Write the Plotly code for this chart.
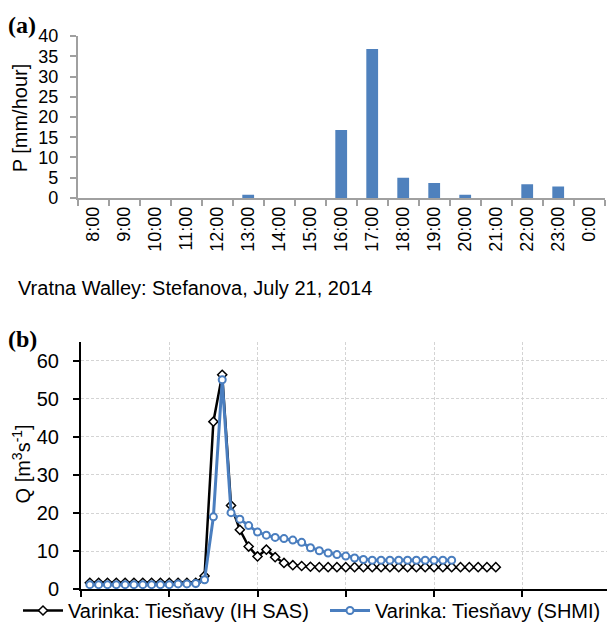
import plotly.graph_objects as go

# ---- data: panel (a) hourly precipitation ----
hours = ["8:00", "9:00", "10:00", "11:00", "12:00", "13:00", "14:00", "15:00",
         "16:00", "17:00", "18:00", "19:00", "20:00", "21:00", "22:00", "23:00", "0:00"]
precip = [0, 0, 0, 0, 0, 0.8, 0, 0, 16.8, 36.8, 5.0, 3.7, 0.8, 0, 3.35, 2.8, 0]

# ---- data: panel (b) discharge ----
ihsas_q = [1.7, 1.7, 1.7, 1.7, 1.7, 1.7, 1.7, 1.7, 1.7, 1.7, 1.7, 1.7, 1.7,
           3.5, 44.0, 56.3, 22.0, 15.6, 11.2, 8.6, 10.4, 8.4, 6.9, 6.3, 6.1, 5.9,
           5.8, 5.8, 5.8, 5.8, 5.8, 5.8, 5.8, 5.8, 5.8, 5.8, 5.8, 5.8, 5.8, 5.8,
           5.8, 5.8, 5.8, 5.8, 5.8, 5.8, 5.8]
shmi_q = [1.2, 1.2, 1.2, 1.2, 1.2, 1.2, 1.2, 1.2, 1.2, 1.2, 1.4, 1.4, 1.5,
          2.5, 19.0, 55.0, 20.1, 18.4, 16.7, 15.0, 14.2, 13.6, 13.3, 12.9, 12.3,
          10.9, 10.1, 9.5, 9.1, 8.7, 8.2, 7.8, 7.6, 7.6, 7.6, 7.6, 7.6, 7.6, 7.6,
          7.6, 7.6, 7.6]
ihsas_t = list(range(1, len(ihsas_q) + 1))
shmi_t = list(range(1, len(shmi_q) + 1))

W, H = 607, 636
def px(x):
    return x / W
def py(y):
    return 1 - y / H

BAR = "#4F81BD"
BLUE = "#4a7ebf"
GRAYAX = "#a0a0a0"
FONT = "Liberation Sans, Arial, sans-serif"
SERIF = "Liberation Serif, Times New Roman, serif"

fig = go.Figure()

fig.add_trace(go.Bar(
    x=hours, y=precip, xaxis="x", yaxis="y",
    marker=dict(color=BAR, line=dict(width=0)),
    showlegend=False,
))

fig.add_trace(go.Scatter(
    x=ihsas_t, y=ihsas_q, xaxis="x2", yaxis="y2",
    mode="lines+markers", name="Varinka: Tiesňavy (IH SAS)",
    line=dict(color="#000000", width=2.5),
    marker=dict(symbol="diamond", size=7, color="white",
                line=dict(color="#000000", width=1.5)),
    legend="legend",
))
fig.add_trace(go.Scatter(
    x=shmi_t, y=shmi_q, xaxis="x2", yaxis="y2",
    mode="lines+markers", name="Varinka: Tiesňavy (SHMI)",
    line=dict(color=BLUE, width=3),
    marker=dict(symbol="circle", size=7, color="white",
                line=dict(color=BLUE, width=2)),
    legend="legend2",
))

legend_common = dict(
    orientation="h", xanchor="left", y=py(621), yanchor="middle",
    font=dict(size=20, family=FONT, color="#000000"),
    bgcolor="rgba(0,0,0,0)", itemwidth=40,
)

fig.update_layout(
    width=W, height=H,
    margin=dict(l=0, r=0, t=0, b=0),
    paper_bgcolor="white", plot_bgcolor="white",
    font=dict(family=FONT, color="#000000"),
    bargap=0.62,
    xaxis=dict(
        domain=[px(77.7), px(604.7)], anchor="y", type="category",
        showline=True, linecolor=GRAYAX, linewidth=1.5,
        ticks="outside", tickson="boundaries", ticklen=6, tickcolor=GRAYAX, tickwidth=1.5,
        tickangle=-90, tickfont=dict(size=18, family=FONT, color="#000000"),
        showgrid=False, zeroline=False,
    ),
    yaxis=dict(
        domain=[py(194.3), py(27)], anchor="x", range=[0, 40], dtick=5,
        showline=True, linecolor=GRAYAX, linewidth=1.5,
        ticks="outside", ticklen=6, tickcolor=GRAYAX, tickwidth=1.5,
        ticklabelstandoff=8,
        tickfont=dict(size=18, family=FONT, color="#000000"),
        showgrid=False, zeroline=False,
    ),
    xaxis2=dict(
        domain=[px(81), 1.0], anchor="y2", range=[0, 59.6],
        tickvals=[0, 10, 20, 30, 40, 50], showticklabels=False,
        showline=True, linecolor="#000000", linewidth=2,
        ticks="outside", ticklen=6, tickcolor="#000000", tickwidth=2,
        showgrid=True, gridcolor="#d4d4d4", gridwidth=1, griddash="3px,2px",
        zeroline=False,
    ),
    yaxis2=dict(
        domain=[py(599), py(343)], anchor="x2", range=[0, 65],
        tickvals=[0, 10, 20, 30, 40, 50, 60],
        showline=True, linecolor="#000000", linewidth=2,
        ticks="outside", ticklen=6, tickcolor="#000000", tickwidth=2,
        ticklabelstandoff=10,
        tickfont=dict(size=20, family=FONT, color="#000000"),
        showgrid=True, gridcolor="#d4d4d4", gridwidth=1, griddash="3px,2px",
        zeroline=False,
    ),
    legend=dict(x=px(18), **legend_common),
    legend2=dict(x=px(325), **legend_common),
    annotations=[
        dict(text="<b>(a)</b>", x=px(6), y=py(16), xref="paper", yref="paper",
             xanchor="left", yanchor="middle", showarrow=False,
             font=dict(size=24, family=SERIF, color="#000000")),
        dict(text="<b>(b)</b>", x=px(6), y=py(340), xref="paper", yref="paper",
             xanchor="left", yanchor="middle", showarrow=False,
             font=dict(size=24, family=SERIF, color="#000000")),
        dict(text="P [mm/hour]", x=px(20), y=py(112), xref="paper", yref="paper",
             xanchor="center", yanchor="middle", showarrow=False, textangle=-90,
             font=dict(size=20, family=FONT, color="#000000")),
        dict(text="Q [m<sup>3</sup>s<sup>-1</sup>]", x=px(21), y=py(470), xref="paper", yref="paper",
             xanchor="center", yanchor="middle", showarrow=False, textangle=-90,
             font=dict(size=20, family=FONT, color="#000000")),
        dict(text="Vratna Walley: Stefanova, July 21, 2014", x=px(16), y=py(287),
             xref="paper", yref="paper", xanchor="left", yanchor="middle", showarrow=False,
             font=dict(size=20, family=FONT, color="#000000")),
    ],
)

fig.write_html("out.html")
